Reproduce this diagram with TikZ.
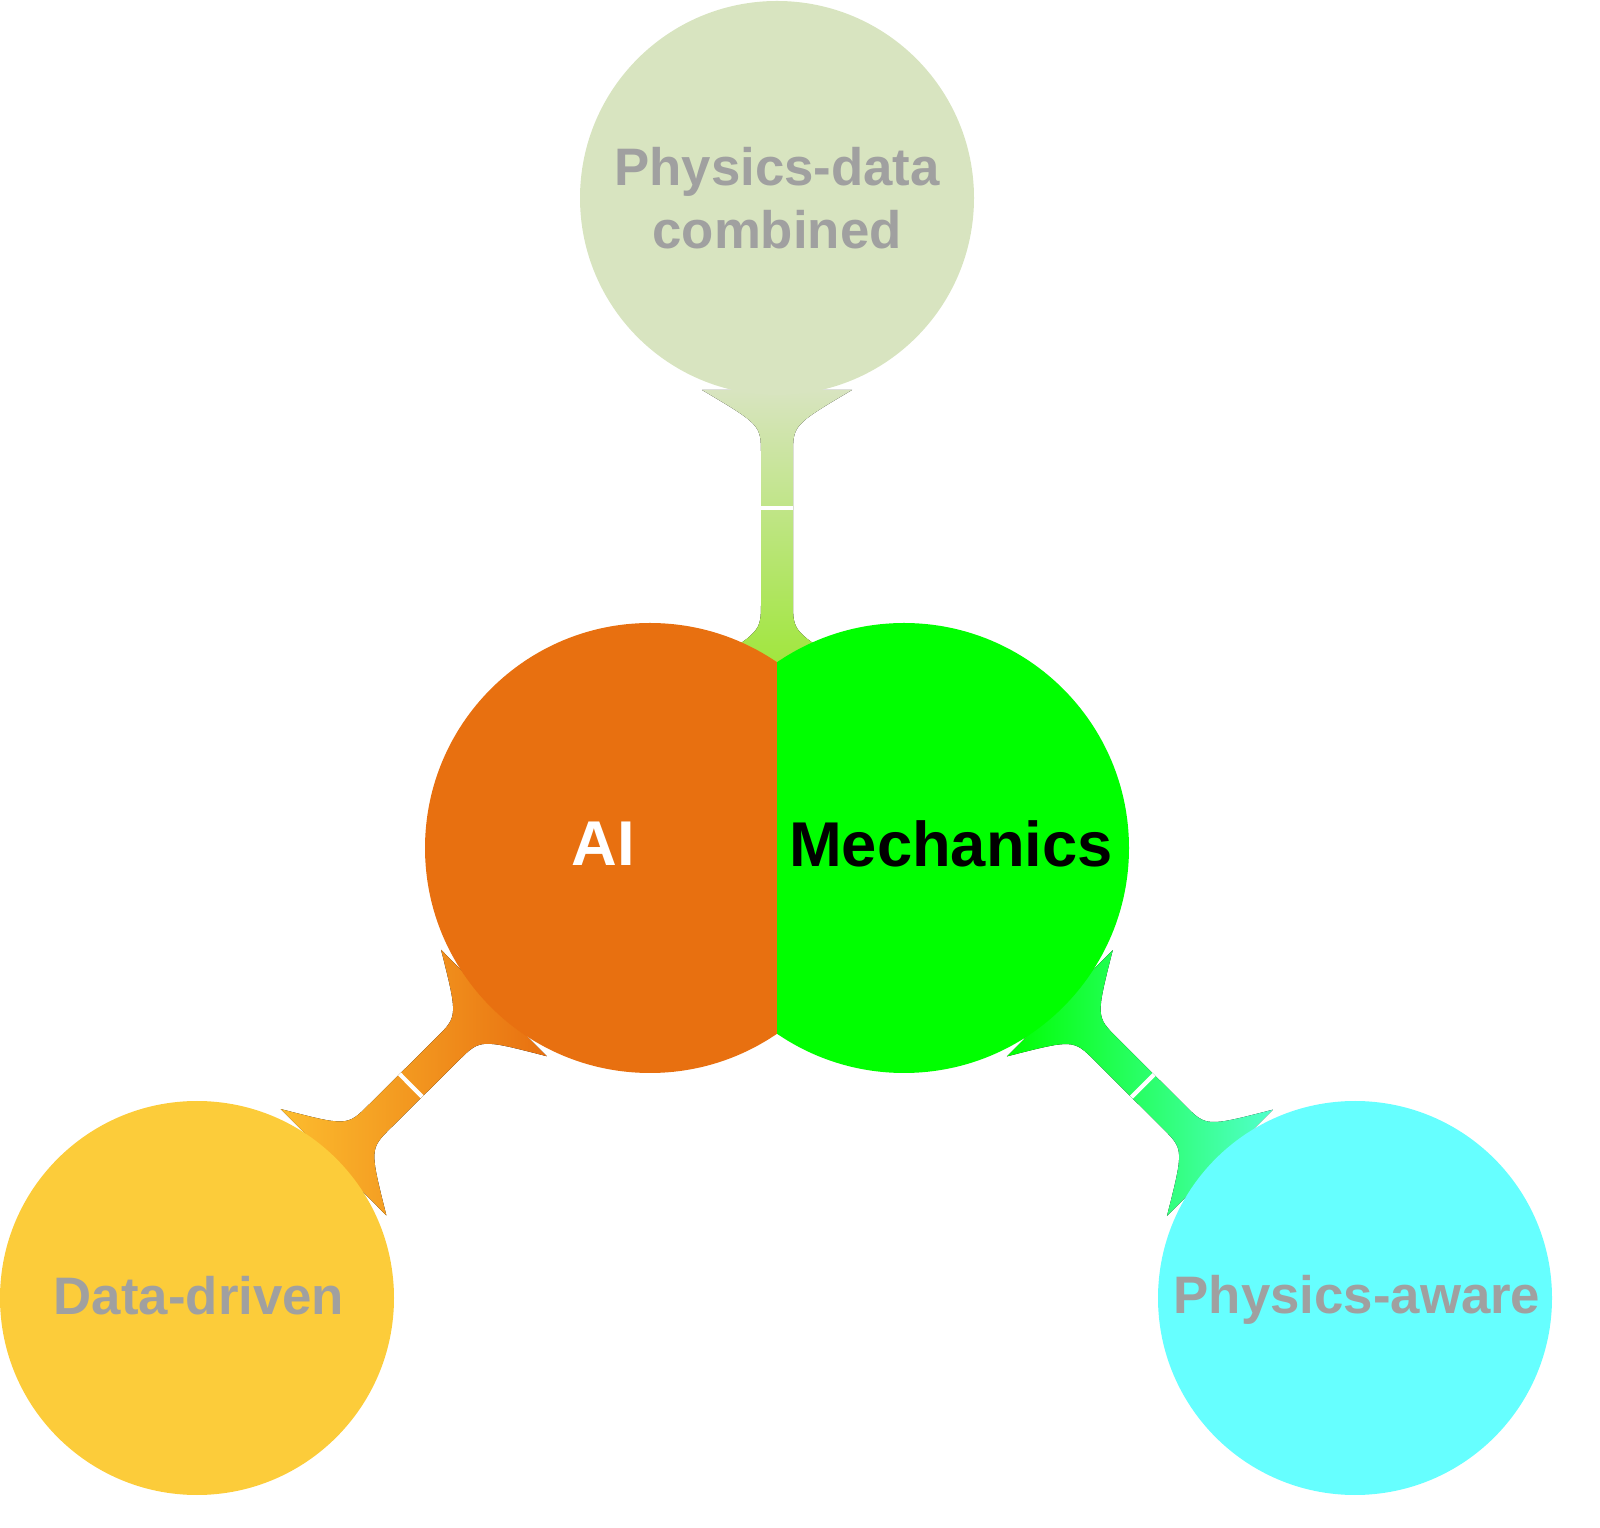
\documentclass[tikz,border=0pt]{standalone}
\usepackage{fontspec}
\setmainfont{Liberation Sans}
\definecolor{cTop}{RGB}{216,228,192}
\definecolor{cTopMid}{RGB}{255,255,144}
\definecolor{cTopBot}{RGB}{160,230,60}
\definecolor{cDD}{RGB}{252,204,58}
\definecolor{cPA}{RGB}{102,255,255}
\definecolor{cAI}{RGB}{232,112,16}
\definecolor{cMe}{RGB}{0,255,0}
\definecolor{cTxt}{RGB}{160,160,160}
\begin{document}
\begin{tikzpicture}[x=0.01cm,y=0.01cm,
  lbl/.style={font=\bfseries\fontsize{15}{18}\selectfont,text=cTxt,align=center},
  bar/.style={white,line width=1.2pt}]
\useasboundingbox (0,0) rectangle (1600,1527);
\newcommand{\conn}[3]{%
  \fill[#3] (#1-5,-75) .. controls (#1+30,-16) .. (#1+60,-16) -- (#2-60,-16)
   .. controls (#2-30,-16) .. (#2+5,-75) -- (#2+5,75) .. controls (#2-30,16) .. (#2-60,16)
   -- (#1+60,16) .. controls (#1+30,16) .. (#1-5,75) -- cycle;}
\begin{scope}[shift={(650,679)},rotate=-135.2]
  \conn{225}{441}{left color=cDD!80!orange,right color=cAI}
\end{scope}
\begin{scope}[shift={(904,679)},rotate=-44.9]
  \conn{225}{441}{left color=cMe,right color=cPA!80!green}
\end{scope}
\begin{scope}[shift={(777,865)},rotate=90]
  \conn{0}{267}{top color=cTop,middle color=cTopMid,bottom color=cTopBot}
\end{scope}
\fill[cTop] (777,1329) circle (197);
\fill[cDD] (197,229) circle (197);
\fill[cPA] (1355,229) circle (197);
\begin{scope}
  \clip (0,0) rectangle (777,1527);
  \fill[cAI] (650,679) circle (225);
\end{scope}
\begin{scope}
  \clip (777,0) rectangle (1600,1527);
  \fill[cMe] (904,679) circle (225);
\end{scope}
\draw[bar] (761,1019) -- (793,1019);
\begin{scope}[shift={(650,679)},rotate=-135.2]
  \draw[bar] (337,-16) -- (337,16);
\end{scope}
\begin{scope}[shift={(904,679)},rotate=-44.9]
  \draw[bar] (337,-16) -- (337,16);
\end{scope}
\node[lbl] (top) at (777,1329) {Physics-data\\combined};
\node[lbl] (dd) at (199,231) {Data-driven};
\node[lbl] (pa) at (1357,227) {Physics-aware};
\node[lbl,font=\bfseries\fontsize{18}{20}\selectfont,text=white] (ai) at (603,683) {AI};
\node[lbl,font=\bfseries\fontsize{18}{20}\selectfont,text=black] (mech) at (951,683) {Mechanics};
\end{tikzpicture}
\end{document}
